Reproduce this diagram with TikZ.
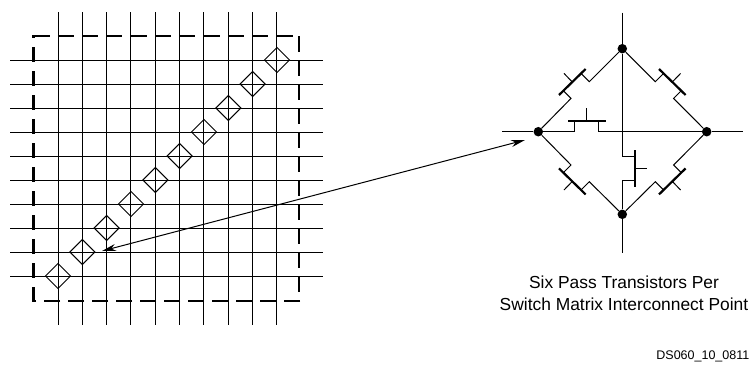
\documentclass[tikz,border=0pt]{standalone}
\usepackage{fontspec}
\setmainfont{Liberation Sans}
\usetikzlibrary{arrows.meta,shapes.geometric}

\begin{document}
\begin{tikzpicture}[
    x=1pt, y=-1pt,
    wire/.style = {line width=1pt},
    gatebar/.style = {line width=2.2pt},
    frame/.style = {line width=2.8pt},
    crosspoint/.style = {
        diamond, draw, line width=1pt, inner sep=0pt, outer sep=0pt,
        minimum width=25pt, minimum height=25pt
    },
    junction/.style = {
        circle, fill=black, inner sep=0pt, minimum size=9.5pt
    },
    arrow/.style = {<->, >={Stealth[length=14pt,width=7pt]}, line width=1pt}
]
\useasboundingbox (0,0) rectangle (750,365);

% Routing grid
\foreach \col in {0,...,9}
    \draw[wire] ({58+24.33*\col},12) -- ({58+24.33*\col},325);
\foreach \row in {0,...,9}
    \draw[wire] (10,{60+24*\row}) -- (323,{60+24*\row});

% Dashed outline
\draw[frame, dash pattern=on 16pt off 8.33pt] (33.5,36) -- (299,36);
\draw[frame, dash pattern=on 15.5pt off 8.5pt] (299,36) -- (299,301);
\draw[frame, dash pattern=on 16pt off 8pt] (300,301) -- (33.5,301);
\draw[frame, dash pattern=on 15pt off 9pt, dash phase=12pt] (33.5,35) -- (33.5,302);

% Diagonal interconnect points
\foreach \n in {0,...,9}
    \node[crosspoint] (point\n) at ({58+24.33*\n},{276-24*\n}) {};

% Switch matrix
\node[junction] (west) at (538.3,131.7) {};
\node[junction] (north) at (622.3,48.7) {};
\node[junction] (east) at (706.7,131.7) {};
\node[junction] (south) at (622.3,214.3) {};
\coordinate (westend) at (502,131.7);
\coordinate (eastend) at (743,131.7);
\coordinate (northend) at (622.3,12.7);
\coordinate (southend) at (622.3,252.7);

\draw[wire] (westend) -- (west) -- (574.3,131.7) -- (574.3,120.7);
\draw[wire] (598.3,120.7) -- (598.3,131.7) -- (east) -- (eastend);
\draw[gatebar] (568.3,120.7) -- (605.7,120.7);
\draw[wire] (586.7,120.7) -- (586.7,108.3);

\draw[wire] (northend) -- (north) -- (622.3,156) -- (634.7,156);
\draw[wire] (634.7,180) -- (622.3,180) -- (south) -- (southend);
\draw[gatebar] (634.7,150) -- (634.7,187.3);
\draw[wire] (634.7,168.7) -- (646.7,168.7);

% Four diagonal transistors, mirrored about the centre
\foreach \sx/\sy/\a/\b in {-1/-1/west/north, 1/-1/east/north, -1/1/west/south, 1/1/east/south} {
    \begin{scope}[shift={(622.3,131.7)}, xscale=\sx, yscale=\sy]
        \draw[wire] (\a) -- (51.3,33.3) -- (58.8,40.8);
        \draw[wire] (\b) -- (33,50) -- (41.2,58.2);
        \draw[gatebar] (63.3,36.7) -- (36.7,62.7);
        \draw[wire] (50,49.7) -- (58.3,58.3);
    \end{scope}
}

% Long arrow between grid and matrix
\coordinate (gridtip) at (102,251);
\coordinate (matrixtip) at (525,140);
\draw[arrow] (gridtip) -- (matrixtip);

% Caption
\node[font=\fontsize{17.4}{21.7}\selectfont, align=center] (caption) at (624,293)
    {Six Pass Transistors Per\\Switch Matrix Interconnect Point};
\node[font=\fontsize{12.5}{14}\selectfont, anchor=east, inner sep=0pt] (figid) at (749.5,356) {DS060\_10\_0811};

\end{tikzpicture}
\end{document}
